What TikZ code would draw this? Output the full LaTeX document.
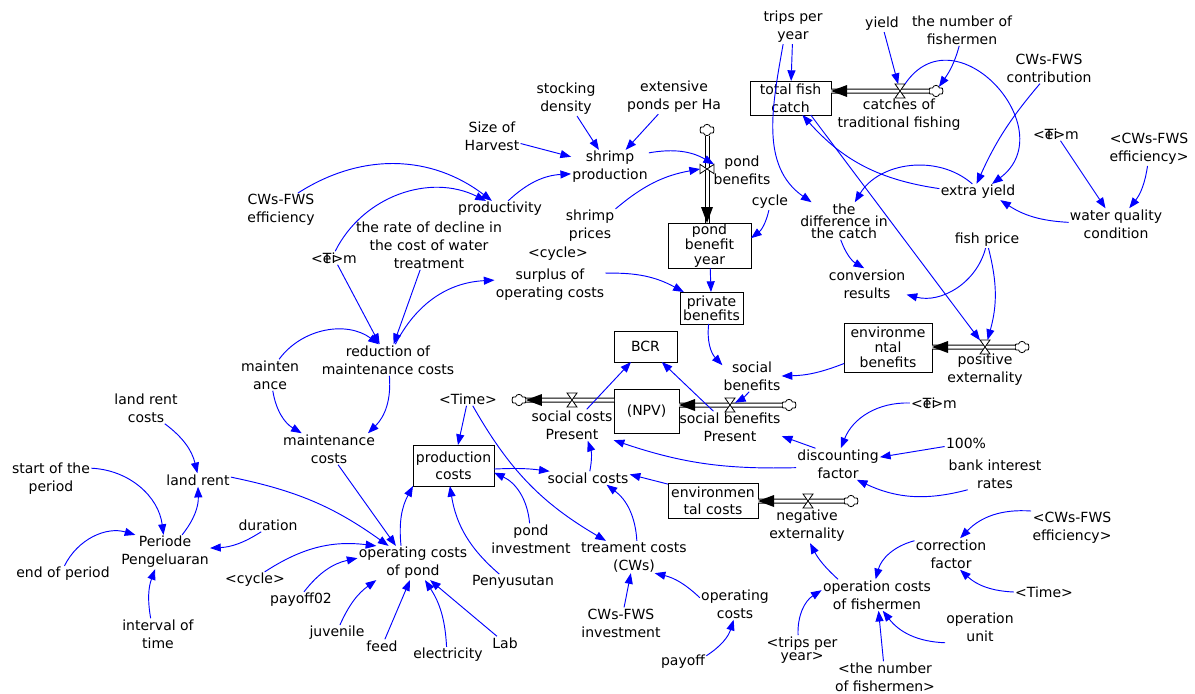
\documentclass[tikz,border=0pt]{standalone}
\usepackage{fontspec}
\setmainfont{DejaVu Sans}
\usetikzlibrary{arrows.meta,shapes.symbols}
\newcommand\gtime{<\rlap{T}e\rlap{i}>m}
\begin{document}
\begin{tikzpicture}[x=0.75pt,y=0.75pt,
  every node/.style={inner sep=1pt,outer sep=0pt,align=center,text=black,
    font=\fontsize{10.5}{13.5}\selectfont},
  tight/.style={font=\fontsize{10.5}{#1}\selectfont},
  stockbox/.style 2 args={draw=black,line width=0.75pt,fill=white,inner sep=0pt,
    minimum width=#1*0.75pt,minimum height=#2*0.75pt},
  ia/.style={draw=blue,line width=0.7pt,-{Triangle[length=8pt,width=6pt]}},
  pipe/.style={draw=black,double=white,double distance=2.25pt,line width=0.75pt},
  cloudn/.style={cloud,cloud puffs=6,cloud puff arc=150,aspect=1.3,draw=black,fill=white,
    line width=0.6pt,inner sep=0pt,minimum width=11pt,minimum height=8.5pt},
  valveh/.style={inner sep=0pt,minimum width=7.5pt,minimum height=10.5pt},
  valvev/.style={inner sep=0pt,minimum width=10.5pt,minimum height=7pt},
  valveline/.style={draw=black,fill=white,line width=0.6pt}
]
\fill[white] (0,0) rectangle (1195,-693);
\useasboundingbox (0,0) rectangle (1195,-693);

% ---------- stocks
\node[stockbox={81}{34}] (tfc) at (790.5,-98) {total fish\\catch};
\node[stockbox={83}{45},tight=11.25] (pby) at (709.5,-245.5) {pond\\benefit\\year};
\node[stockbox={63}{32},tight=10.5] (privben) at (711.5,-308) {private\\benefits};
\node[stockbox={88}{49},tight=11.25] (envben) at (888,-347.5) {environme\\ntal\\benefits};
\node[stockbox={63}{31}] (bcr) at (645.5,-346.5) {BCR};
\node[stockbox={65}{44}] (npv) at (646.5,-411) {(NPV)};
\node[stockbox={90}{35},tight=13] (envcost) at (713,-500.5) {environmen\\tal costs};
\node[stockbox={81}{41},tight=13] (prodcost) at (453.5,-465.5) {production\\costs};

% ---------- clouds and valves
\node[cloudn] (c1) at (936,-91) {};
\node[cloudn] (c2) at (707,-130) {};
\node[cloudn] (c3) at (1022,-347) {};
\node[cloudn] (c4) at (789,-405) {};
\node[cloudn] (c5) at (519,-400) {};
\node[cloudn] (c6) at (851,-501) {};
\node[valveh] (v1) at (900,-91) {};
\node[valvev] (v2) at (707,-169) {};
\node[valveh] (v3) at (985,-347) {};
\node[valveh] (v4) at (730,-405) {};
\node[valveh] (v5) at (572,-400) {};
\node[valveh] (v6) at (808,-501) {};

% ---------- variables
\node (trips) at (793,-27) {trips per\\year};
\node (yield) at (882,-24) {yield};
\node (nfish) at (962,-30) {the number of\\fishermen};
\node (cwscontr) at (1049,-68) {CWs-FWS\\contribution};
\node (catches) at (899,-115) {catches of\\traditional fishing};
\node (stocking) at (566,-99) {stocking\\density};
\node (extensive) at (674,-97) {extensive\\ponds per Ha};
\node (size) at (492,-136) {Size of\\Harvest};
\node (shrimpprod) at (610,-167) {shrimp\\production};
\node (pondben) at (742,-170) {pond\\benefits};
\node (productivity) at (500,-209) {productivity};
\node (cwseff) at (281,-210) {CWs-FWS\\efficiency};
\node (rate) at (429,-245) {the rate of decline in\\the cost of water\\treatment};
\node (time1) at (334,-258) {\gtime};
\node (shrimpprices) at (590,-226) {shrimp\\prices};
\node (cycle) at (770,-202) {cycle};
\node (cyclet) at (558,-254) {<cycle>};
\node (surplus) at (550,-285) {surplus of\\operating costs};
\node[tight=9] (diff) at (844,-221) {the\\difference in\\the catch};
\node (conv) at (867,-284) {conversion\\results};
\node (extra) at (978,-192) {extra yield};
\node (fishprice) at (987,-240) {fish price};
\node (wqc) at (1116,-224) {water quality\\condition};
\node (time2) at (1056,-134) {\gtime};
\node (cwseff2) at (1149,-149) {<CWs-FWS\\efficiency>};
\node (posext) at (985,-370) {positive\\externality};
\node (socben) at (752,-376) {social\\benefits};
\node (socbenpres) at (730,-427) {social benefits\\Present};
\node (soccostpres) at (572,-425) {social costs\\Present};
\node (time3) at (934,-403) {\gtime};
\node (hundred) at (966,-443) {100\%};
\node (disc) at (838,-464) {discounting\\factor};
\node (bank) at (995,-474) {bank interest\\rates};
\node (negext) at (807,-526) {negative\\externality};
\node (socialcosts) at (588,-478) {social costs};
\node (time4) at (468,-399) {<Time>};
\node (pondinv) at (531,-539) {pond\\investment};
\node (treat) at (634,-557) {treament costs\\(CWs)};
\node (penyusutan) at (513,-582) {Penyusutan};
\node (opcpond) at (413,-563) {operating costs\\of pond};
\node (cyclet2) at (255,-580) {<cycle>};
\node (payoff02) at (301,-600) {payoff02};
\node (juvenile) at (337,-633) {juvenile};
\node (feed) at (382,-646) {feed};
\node (electricity) at (448,-655) {electricity};
\node (lab) at (505,-643) {Lab};
\node (maintcosts) at (329,-449) {maintenance\\costs};
\node (reduction) at (388,-360) {reduction of\\maintenance costs};
\node (mainten) at (270,-375) {mainten\\ance};
\node (landrentcosts) at (146,-408) {land rent\\costs};
\node (startperiod) at (51,-479) {start of the\\period};
\node (landrent) at (198,-480) {land rent};
\node (periode) at (165,-552) {Periode\\Pengeluaran};
\node (duration) at (268,-525) {duration};
\node (endperiod) at (63,-574) {end of period};
\node (interval) at (158,-634) {interval of\\time};
\node (cwsinv) at (621,-623) {CWs-FWS\\investment};
\node (opcosts) at (735,-604) {operating\\costs};
\node (payoff) at (683,-662) {payoff};
\node (opcfish) at (877,-595) {operation costs\\of fishermen};
\node (correction) at (951,-554) {correction\\factor};
\node (cwseff3) at (1072,-528) {<CWs-FWS\\efficiency>};
\node (time5) at (1044,-592) {<Time>};
\node (opunit) at (980,-627) {operation\\unit};
\node[tight=10] (tripst) at (802,-650) {<trips per\\year>};
\node (nfisht) at (885,-677) {<the number\\of fishermen>};

% ---------- flows (pipes, heads, valves)
\draw[pipe] (c1) -- (c1 -| tfc.east);
\fill (c1 -| tfc.east) -- ++(16,6) -- ++(0,-12) -- cycle;
\draw[pipe] (c2) -- (c2 |- pby.north);
\fill (c2 |- pby.north) -- ++(-6,16) -- ++(12,0) -- cycle;
\draw[pipe] (c3) -- (c3 -| envben.east);
\fill (c3 -| envben.east) -- ++(16,6) -- ++(0,-12) -- cycle;
\draw[pipe] (c4) -- (c4 -| npv.east);
\fill (c4 -| npv.east) -- ++(16,6) -- ++(0,-12) -- cycle;
\draw[pipe] (c5 -| npv.west) -- (c5);
\fill (c5.east) -- ++(16,6) -- ++(0,-12) -- cycle;
\draw[pipe] (c6) -- (c6 -| envcost.east);
\fill (c6 -| envcost.east) -- ++(16,6) -- ++(0,-12) -- cycle;
\foreach \v in {v1,v3,v4,v5,v6}{
  \draw[valveline] (\v.north west) -- (\v.north east) -- (\v.south west) -- (\v.south east) -- cycle;}
\draw[valveline] (v2.north west) -- (v2.south west) -- (v2.north east) -- (v2.south east) -- cycle;

% ---------- information links
\draw[ia] (trips) -- (tfc);
\draw[ia] (trips.-120) to[out=-100,in=145] (diff.150);
\draw[ia] (yield) -- (v1);
\draw[ia] (nfish.-100) to[out=-105,in=55] (c1);
\draw[ia] (v1.north east) .. controls +(56:90) and +(37:90) .. (extra.30);
\draw[ia] (cwscontr.-120) to[bend right=8] (extra.100);
\draw[ia] (extra.175) to[bend left=20] (tfc.-55);
\draw[ia] (tfc.-40) -- (v3);
\draw[ia] (extra.125) to[bend right=50] (diff.60);
\draw[ia] (wqc.178) to[bend left=15] (extra.-20);
\draw[ia] (time2) -- (wqc);
\draw[ia] (cwseff2.-95) to[bend left=15] (wqc.50);
\draw[ia] (fishprice.-100) to[bend left=45] (conv.-15);
\draw[ia] (fishprice.-80) to[bend left=15] (v3.70);
\draw[ia] (diff.-100) to[bend right=20] (conv.100);
\draw[ia] (cycle) to[bend left=20] (pby.10);
\draw[ia] (shrimpprod.20) to[bend left=20] (v2.north east);
\draw[ia] (shrimpprices.north east) to[bend left=15] (v2.west);
\draw[ia] (stocking) -- (shrimpprod);
\draw[ia] (extensive) -- (shrimpprod);
\draw[ia] (size) -- (shrimpprod);
\draw[ia] (productivity.45) to[bend left=20] (shrimpprod.190);
\draw[ia] (cwseff.45) to[bend left=35] (productivity.135);
\draw[ia] (time1.80) to[bend left=45] (productivity.150);
\draw[ia] (time1) -- (reduction);
\draw[ia] (rate) -- (reduction);
\draw[ia] (reduction.65) to[bend left=30] (surplus.175);
\draw[ia] (mainten.60) to[bend left=45] (reduction.120);
\draw[ia] (surplus.12) to[bend left=15] (privben.150);
\draw[ia] (pby) -- (privben);
\draw[ia] (privben.-100) to[bend right=25] (socben.160);
\draw[ia] (envben.-160) to[bend left=10] (socben.0);
\draw[ia] (socben.-100) to[bend left=10] (v4);
\draw[ia] (soccostpres) -- (bcr);
\draw[ia] (socbenpres) -- (bcr);
\draw[ia] (time3.180) to[bend right=35] (disc.80);
\draw[ia] (hundred) -- (disc);
\draw[ia] (bank.-150) to[bend left=20] (disc.-40);
\draw[ia] (disc.145) -- (socbenpres.-10);
\draw[ia] (disc.-175) to[bend left=10] (soccostpres.-20);
\draw[ia] (socialcosts.75) to[bend right=15] (soccostpres.-45);
\draw[ia] (envcost.160) -- (socialcosts.5);
\draw[ia] (treat.80) to[bend right=25] (socialcosts.-20);
\draw[ia] (prodcost.-5) to[bend left=5] (socialcosts.170);
\draw[ia] (time4) -- (prodcost);
\draw[ia] (time4.-55) to[bend right=15] (treat.150);
\draw[ia] (pondinv.95) to[bend right=30] (prodcost.-10);
\draw[ia] (penyusutan.150) to[bend left=20] (prodcost.-100);
\draw[ia] (opcpond.125) to[bend left=17] (prodcost.south west);
\draw[ia] (maintcosts.-60) -- (opcpond.135);
\draw[ia] (reduction.-85) to[bend left=25] (maintcosts.22);
\draw[ia] (mainten.-80) to[bend right=25] (maintcosts.150);
\draw[ia] (landrent.5) to[bend left=12] (opcpond.145);
\draw[ia] (landrentcosts.-40) to[bend left=20] (landrent.95);
\draw[ia] (startperiod.15) to[bend left=40] (periode.95);
\draw[ia] (endperiod.80) to[bend left=40] (periode.150);
\draw[ia] (interval.115) to[bend left=15] (periode.-120);
\draw[ia] (periode.45) to[bend right=20] (landrent.-90);
\draw[ia] (duration.-135) to[bend left=15] (periode.5);
\draw[ia] (cyclet2.40) to[bend left=20] (opcpond.155);
\draw[ia] (payoff02.70) to[bend left=20] (opcpond.175);
\draw[ia] (juvenile.70) to[bend left=15] (opcpond.-155);
\draw[ia] (feed) -- (opcpond.-100);
\draw[ia] (electricity.100) to[bend right=15] (opcpond.-55);
\draw[ia] (lab) -- (opcpond.-45);
\draw[ia] (cwsinv) -- (treat);
\draw[ia] (opcosts.170) to[bend right=15] (treat.-38);
\draw[ia] (payoff.15) to[bend right=20] (opcosts.-95);
\draw[ia] (opcfish.158) to[bend left=10] (negext.-80);
\draw[ia] (correction.160) to[bend right=30] (opcfish.95);
\draw[ia] (cwseff3.north west) to[bend right=25] (correction.60);
\draw[ia] (time5.180) to[bend left=20] (correction.-60);
\draw[ia] (tripst.105) to[bend left=30] (opcfish.175);
\draw[ia] (nfisht) -- (opcfish);
\draw[ia] (opunit.south west) to[bend left=25] (opcfish.-70);
\end{tikzpicture}
\end{document}
